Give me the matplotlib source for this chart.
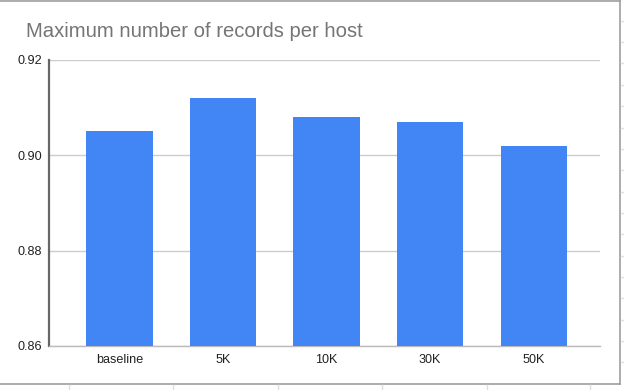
import matplotlib
matplotlib.use("Agg")
import matplotlib.pyplot as plt
from matplotlib.lines import Line2D

plt.rcParams['font.family'] = ['Liberation Sans', 'DejaVu Sans']

categories = ["baseline", "5K", "10K", "30K", "50K"]
values = [0.905, 0.912, 0.908, 0.907, 0.902]
yticks = [0.86, 0.88, 0.90, 0.92]
ytick_labels = ["0.86", "0.88", "0.90", "0.92"]
title = "Maximum number of records per host"

W, H = 624, 390
fig = plt.figure(figsize=(W / 100, H / 100), dpi=100)
fig.patch.set_facecolor("white")

ax = fig.add_axes([49 / W, 44 / H, (600 - 49) / W, (330.3 - 44) / H])
x = list(range(len(categories)))
ax.bar(x, values, width=0.64, color="#4285F4", zorder=3)
ax.set_xlim(-0.68, 4.64)
ax.set_ylim(0.86, 0.92)
ax.set_yticks(yticks)
ax.set_yticklabels(ytick_labels)
ax.set_xticks(x)
ax.set_xticklabels(categories)
ax.tick_params(axis="both", length=0, labelsize=9.1, colors="#222222")
ax.tick_params(axis="y", pad=5)
ax.tick_params(axis="x", pad=6)
ax.grid(axis="y", color="#cccccc", linewidth=1, zorder=0)
for s in ["top", "right"]:
    ax.spines[s].set_visible(False)
ax.spines["left"].set_color("#666666")
ax.spines["left"].set_linewidth(1.6)
ax.spines["bottom"].set_color("#bbbbbb")
ax.spines["bottom"].set_linewidth(1)

fig.text(26 / W, 1 - 31.5 / H, title, fontsize=14.6, color="#757575", va="center", ha="left")

# chart frame (spreadsheet embed border)
def fl(xs, ys, **kw):
    fig.add_artist(Line2D([v / W for v in xs], [1 - v / H for v in ys],
                          transform=fig.transFigure, **kw))

fl([0, 619.5], [0.5, 0.5], color="#9e9e9e", lw=1.2)
fl([619.5, 619.5], [0, 384], color="#9e9e9e", lw=1.2)
fl([0, 619.5], [384, 384], color="#9e9e9e", lw=1.2)
# faint spreadsheet grid outside the chart
for gx in [69, 173, 278, 382, 487, 590]:
    fl([gx, gx], [385, 390], color="#e0e0e0", lw=1)
for gy in [21, 42, 63, 85, 106, 128, 149, 170, 192, 213, 234, 256, 277, 298, 320, 341, 362]:
    fl([620.5, 624], [gy, gy], color="#e0e0e0", lw=1)

fig.savefig("out.png", dpi=100, facecolor="white")
